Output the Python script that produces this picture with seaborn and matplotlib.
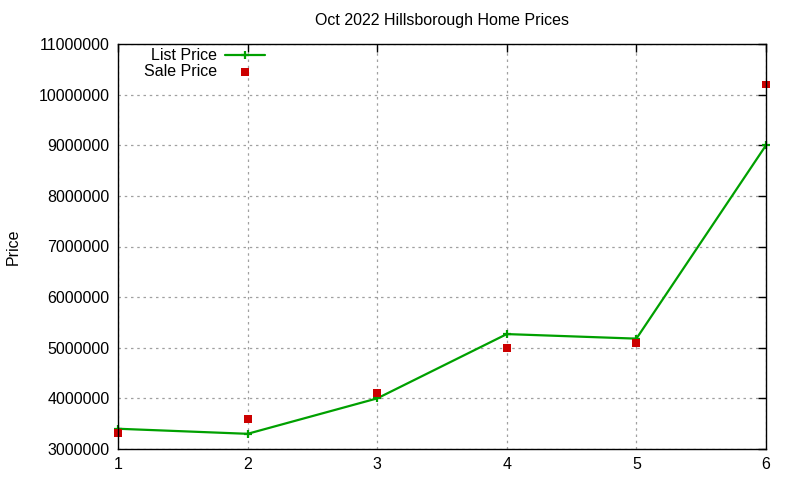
import matplotlib
matplotlib.use("Agg")
import matplotlib.pyplot as plt
import matplotlib.ticker as mticker
import seaborn as sns
import pandas as pd

# Data
listings = [1, 2, 3, 4, 5, 6]
list_price = [3400000, 3300000, 4000000, 5270000, 5180000, 9000000]
sale_price = [3310000, 3590000, 4100000, 5000000, 5100000, 10200000]
y_ticks = [3000000, 4000000, 5000000, 6000000, 7000000, 8000000, 9000000, 10000000, 11000000]

sns.set_style("white")
plt.rcParams['font.family'] = ['Liberation Sans', 'DejaVu Sans']
plt.rcParams['text.color'] = 'black'
plt.rcParams['axes.labelcolor'] = 'black'

df = pd.DataFrame({"x": listings, "list": list_price, "sale": sale_price})

fig = plt.figure(figsize=(8, 4.8), dpi=100)
ax = fig.add_axes([118/800, 1 - 449/480, (766-118)/800, (449-44)/480])

sns.lineplot(data=df, x="x", y="list", ax=ax, color="#00A000", linewidth=1.6,
             marker="+", markersize=6, markeredgewidth=1.6,
             markeredgecolor="#00A000", label="List Price", clip_on=False, zorder=3)
sns.scatterplot(data=df, x="x", y="sale", ax=ax, color="#CC0000", marker="s",
                s=33, edgecolor="none", label="Sale Price", zorder=4, clip_on=False)

ax.set_xlim(1, 6)
ax.set_ylim(3000000, 11000000)
ax.set_xticks(listings)
ax.set_yticks(y_ticks)
ax.yaxis.set_major_formatter(mticker.FuncFormatter(lambda v, p: f"{int(v)}"))
ax.grid(True, color="#A0A0A0", linestyle=(0, (2, 3)), linewidth=0.9)
ax.set_axisbelow(True)
for s in ax.spines.values():
    s.set_color("black")
    s.set_linewidth(1.0)
    s.set_zorder(5)
ax.tick_params(axis="both", direction="in", length=6, width=1, top=True, right=True,
               labelsize=11.5, colors="black", labelcolor="black", pad=6)
ax.set_xlabel("")
ax.set_ylabel("Price", fontsize=11.5, color="black")
ax.yaxis.set_label_coords(-0.150, 0.5)
ax.set_title("Oct 2022 Hillsborough Home Prices", fontsize=11.5, pad=14, color="black")

leg = ax.legend(loc="upper left", frameon=False, markerfirst=False, fontsize=11.5,
                handlelength=2.5, handletextpad=0.5, borderaxespad=0.0, labelspacing=0.05,
                bbox_to_anchor=(0.03, 1.005))
for t in leg.get_texts():
    t.set_color("black")

fig.savefig("out.png", dpi=100)
